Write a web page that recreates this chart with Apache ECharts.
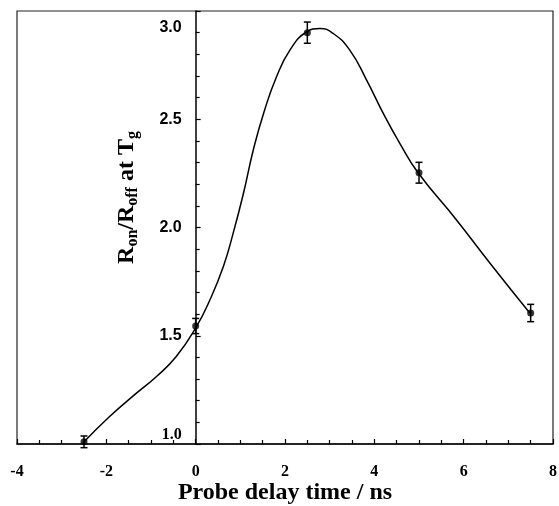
<!DOCTYPE html>
<html>
<head>
<meta charset="utf-8">
<script src="https://cdn.jsdelivr.net/npm/echarts@6/dist/echarts.min.js"></script>
<style>
html,body{margin:0;padding:0;background:#fff;}
#chart{width:559px;height:506px;}
</style>
</head>
<body>
<div id="chart"></div>
<script>
const delayTimes = [-2.5, 0, 2.5, 5, 7.5];
const ratioValues = [1.01, 1.545, 2.90, 2.253, 1.605];
const ratioErrors = [0.027, 0.035, 0.049, 0.048, 0.04];
// Fitted guide curve
const curveX = [-2.52, -1.92, -1.32, -0.87, -0.43, 0, 0.32, 0.62, 0.84, 1.07, 1.29, 1.52, 1.81, 2.11, 2.48, 2.78, 3.08, 3.45, 3.83, 4.2, 4.57, 4.98, 5.84, 6.59, 7.48];
const curveY = [1.006, 1.128, 1.236, 1.313, 1.405, 1.536, 1.666, 1.82, 1.974, 2.158, 2.358, 2.527, 2.696, 2.819, 2.903, 2.919, 2.896, 2.819, 2.68, 2.527, 2.389, 2.253, 2.035, 1.835, 1.605];
const xTicks = [-4, -2, 0, 2, 4, 6, 8];
const yTicks = [1.0, 1.5, 2.0, 2.5, 3.0];

const chart = echarts.init(document.getElementById('chart'), null, {renderer: 'canvas'});
const pts = delayTimes.map((x, i) => [x, ratioValues[i]]);
const errs = delayTimes.map((x, i) => [x, ratioValues[i], ratioErrors[i]]);
const curve = curveX.map((x, i) => [x, curveY[i]]);

const gridLeft = 17, gridRight = 6;
const plotWidth = 559 - gridLeft - gridRight;
const xMin = xTicks[0], xMax = xTicks[xTicks.length - 1];
// move the y axis (line, ticks, labels, name) onto x = 0
const yAxisOffset = -plotWidth * (0 - xMin) / (xMax - xMin);

const option = {
  backgroundColor: '#fff',
  animation: false,
  grid: {
    left: gridLeft, right: gridRight, top: 11, bottom: 62,
    containLabel: false, outerBoundsMode: 'none',
    show: true, borderColor: '#222', borderWidth: 1.2, backgroundColor: 'transparent'
  },
  xAxis: {
    type: 'value',
    min: xMin, max: xMax, interval: 2,
    splitLine: {show: false},
    axisLine: {onZero: false, lineStyle: {color: '#000', width: 1.5}},
    axisTick: {inside: true, length: 5, lineStyle: {color: '#000', width: 1.2}},
    minorTick: {show: true, splitNumber: 4, length: 4, lineStyle: {color: '#000', width: 1.2}},
    axisLabel: {
      margin: 20, color: '#000',
      fontFamily: '"Liberation Serif", "Times New Roman", serif',
      fontWeight: 'bold', fontSize: 16
    },
    name: 'Probe delay time / ns',
    nameLocation: 'middle', nameGap: 37, nameMoveOverlap: false,
    nameTextStyle: {
      color: '#000', fontFamily: '"Liberation Serif", "Times New Roman", serif',
      fontWeight: 'bold', fontSize: 24
    }
  },
  yAxis: {
    type: 'value',
    min: yTicks[0], max: yTicks[yTicks.length - 1], interval: 0.5,
    offset: yAxisOffset,
    splitLine: {show: false},
    axisLine: {onZero: false, lineStyle: {color: '#000', width: 1.5}},
    axisTick: {inside: true, length: 5, lineStyle: {color: '#000', width: 1.2}},
    minorTick: {show: true, splitNumber: 5, length: 4, lineStyle: {color: '#000', width: 1.2}},
    axisLabel: {
      margin: 14, color: '#000',
      fontFamily: '"Liberation Sans", Arial, sans-serif',
      fontWeight: 'bold', fontSize: 16,
      formatter: function (v) {
        if (v === 1) return '{mn|1.0}';
        if (v === 3) return '{mx|3.0}';
        return v.toFixed(1);
      },
      rich: {
        mn: {fontFamily: '"Liberation Serif", "Times New Roman", serif', fontWeight: 'bold', fontSize: 16, color: '#000', padding: [0, 0, 19, 0]},
        mx: {fontFamily: '"Liberation Sans", Arial, sans-serif', fontWeight: 'bold', fontSize: 16, color: '#000', padding: [33, 0, 0, 0]}
      }
    },
    name: '{b|R}{s|on}{b|/R}{s|off}{b| at T}{s|g}',
    nameLocation: 'middle', nameGap: 55,
    nameTextStyle: {
      color: '#000',
      padding: [0, 0, 0, 60],
      rich: {
        b: {fontFamily: '"Liberation Serif", "Times New Roman", serif', fontWeight: 'bold', fontSize: 24, color: '#000'},
        s: {fontFamily: '"Liberation Serif", "Times New Roman", serif', fontWeight: 'bold', fontSize: 16, color: '#000', verticalAlign: 'bottom', padding: [11, 0, 0, 0]}
      }
    }
  },
  series: [
    {
      type: 'line',
      data: curve,
      smooth: 0.5,
      showSymbol: false,
      symbol: 'none',
      lineStyle: {color: '#000', width: 1.5},
      clip: false,
      z: 2
    },
    {
      type: 'scatter',
      data: pts,
      symbol: 'circle',
      symbolSize: 7,
      itemStyle: {color: '#000'},
      clip: false,
      z: 3
    },
    {
      type: 'custom',
      data: errs,
      clip: false,
      z: 4,
      renderItem: function (params, api) {
        const x = api.value(0), y = api.value(1), e = api.value(2);
        const t = api.coord([x, y + e]);
        const b = api.coord([x, y - e]);
        const w = 3.5;
        const st = {stroke: '#000', lineWidth: 1.5};
        return {
          type: 'group',
          children: [
            {type: 'line', shape: {x1: t[0], y1: t[1], x2: b[0], y2: b[1]}, style: st},
            {type: 'line', shape: {x1: t[0] - w, y1: t[1], x2: t[0] + w, y2: t[1]}, style: st},
            {type: 'line', shape: {x1: b[0] - w, y1: b[1], x2: b[0] + w, y2: b[1]}, style: st}
          ]
        };
      }
    }
  ]
};
chart.setOption(option);
</script>
</body>
</html>
